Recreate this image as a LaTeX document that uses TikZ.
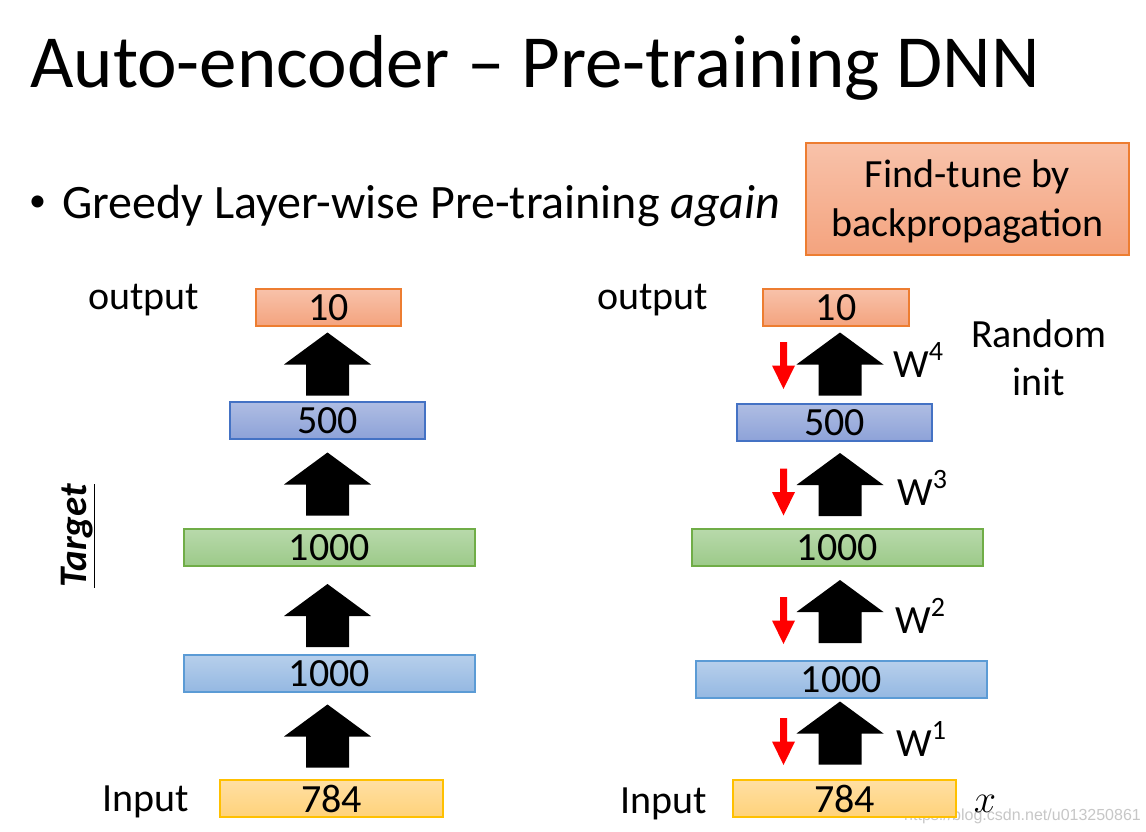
\RequirePackage{fix-cm}
\documentclass[tikz,border=0pt]{standalone}
\usepackage{fontspec}
\setmainfont{Carlito}
\newfontfamily\wmfont{Liberation Sans}
\usetikzlibrary{calc}
\newcommand\fs[1]{\fontsize{#1}{1.2\dimexpr#1pt\relax}\selectfont}
\newcommand\Wsup[1]{W\raisebox{0.42em}{\fontsize{28}{30}\selectfont #1}}
\definecolor{orbd}{HTML}{ED7D31}
\definecolor{ortop}{HTML}{F8C2AA}
\definecolor{orbot}{HTML}{F4A37E}
\definecolor{pubd}{HTML}{4472C4}
\definecolor{putop}{HTML}{AFBDE3}
\definecolor{pubot}{HTML}{8DA2D8}
\definecolor{grbd}{HTML}{70AD47}
\definecolor{grtop}{HTML}{B8D9AB}
\definecolor{grbot}{HTML}{9CCA89}
\definecolor{blbd}{HTML}{5B9BD5}
\definecolor{bltop}{HTML}{B7CFEB}
\definecolor{blbot}{HTML}{94B8E2}
\definecolor{yebd}{HTML}{FFC000}
\definecolor{yetop}{HTML}{FFDFA3}
\definecolor{yebot}{HTML}{FFD27A}
\tikzset{
  layer/.style={draw, line width=1.2pt, inner sep=0pt, minimum height=37pt, font=\fs{40}},
  orlayer/.style={layer, draw=orbd, top color=ortop, bottom color=orbot},
  pulayer/.style={layer, draw=pubd, top color=putop, bottom color=pubot},
  grlayer/.style={layer, draw=grbd, top color=grtop, bottom color=grbot},
  bllayer/.style={layer, draw=blbd, top color=bltop, bottom color=blbot},
  yelayer/.style={layer, draw=yebd, top color=yetop, bottom color=yebot},
  lbl/.style={font=\fs{40}, inner sep=0pt, anchor=base west},
  uparrowpic/.pic={\fill[black] (-21.5,31.5) -- (-21.5,0.5) -- (-43.5,0.5) -- (0,-31.5) -- (43.5,0.5) -- (21.5,0.5) -- (21.5,31.5) -- cycle;},
  redarrowpic/.pic={\fill[red] (-3.5,-23.5) -- (-3.5,0) -- (-11.5,0) -- (0,23.5) -- (11.5,0) -- (3.5,0) -- (3.5,-23.5) -- cycle;}
}
\begin{document}
\begin{tikzpicture}[x=1pt,y=-1pt]
\useasboundingbox[fill=white] (0,0) rectangle (1146,832);
% watermark (behind)
\node[font=\wmfont\fontsize{16}{18}\selectfont, text=black!22, inner sep=0pt, anchor=base west] (wm) at (904,820) {https://blog.csdn.net/u013250861};
% title
\node[font=\fs{75}, inner sep=0pt, anchor=base west] (title) at (30,88) {Auto-encoder – Pre-training DNN};
\node[font=\fs{34}, inner sep=0pt] (bul) at (37.5,204) {•};
\node[font=\fs{48}, inner sep=0pt, anchor=base west] (sub) at (62,218) {Greedy Layer-wise Pre-training \textit{again}};
\node[draw=orbd, line width=1.2pt, top color=ortop, bottom color=orbot, minimum width=323pt, minimum height=112pt, inner sep=0pt] (fine) at (967.5,199) {};
\node[inner sep=0pt, align=center, font=\fontsize{40}{49}\selectfont] (finetext) at ([yshift=-3pt]fine.center) {Find-tune by\\backpropagation};
% left column
\node[orlayer, minimum width=145pt] (L10) at (328.5,307.5) {10};
\node[pulayer, minimum width=195pt] (L500) at (327.5,420.5) {500};
\node[grlayer, minimum width=291pt] (L1000a) at (329.5,547.5) {1000};
\node[bllayer, minimum width=291pt] (L1000b) at (329.5,673.5) {1000};
\node[yelayer, minimum width=223pt] (L784) at (331.5,798.5) {784};
\node[lbl] (Lout) at (88,309) {output};
\node[lbl] (Lin) at (102,811) {Input};
\node[font=\fs{39}\bfseries\itshape, inner sep=0pt, rotate=90, anchor=base] (target) at (86,536) {\underline{Target}};
\coordinate (lx) at (327.5,0);
\coordinate (lm4) at ($(L10.south)!0.5!(L500.north)$);
\coordinate (lm3) at ($(L500.south)!0.5!(L1000a.north)$);
\coordinate (lm2) at ($(L1000a.south)!0.5!(L1000b.north)$);
\coordinate (lm1) at ($(L1000b.south)!0.5!(L784.north)$);
\pic at (lx |- lm4) {uparrowpic};
\pic at (lx |- lm3) {uparrowpic};
\pic at ([yshift=-5pt]lx |- lm2) {uparrowpic};
\pic at (lx |- lm1) {uparrowpic};
% right column
\node[orlayer, minimum width=146pt] (R10) at (836,307.5) {10};
\node[pulayer, minimum width=195pt] (R500) at (834.5,422.5) {500};
\node[grlayer, minimum width=291pt] (R1000a) at (837.5,547.5) {1000};
\node[bllayer, minimum width=291pt] (R1000b) at (841.5,679.5) {1000};
\node[yelayer, minimum width=223pt] (R784) at (844.5,798.5) {784};
\node[lbl] (Rout) at (597,309) {output};
\node[lbl] (Rin) at (620,813) {Input};
\node[font=\fs{40}, inner sep=0pt, anchor=base] (xin) at (985,812) {$x$};
\node[font=\fs{40}, inner sep=0pt, align=center] (rand) at (1039,358) {Random\\init};
\coordinate (rx) at (840,0);
\coordinate (rr) at (783.5,0);
\coordinate (rm4) at ($(R10.south)!0.5!(R500.north)$);
\coordinate (rm3) at ($(R500.south)!0.5!(R1000a.north)$);
\coordinate (rm2) at ($(R1000a.south)!0.5!(R1000b.north)$);
\coordinate (rm1) at ($(R1000b.south)!0.5!(R784.north)$);
\pic at ([yshift=1pt]rx |- rm4) {uparrowpic};
\pic at ([yshift=0.5pt]rx |- rm3) {uparrowpic};
\pic at ([yshift=2pt]rx |- rm2) {uparrowpic};
\pic at ([yshift=6pt]rx |- rm1) {uparrowpic};
\pic at ([yshift=-0.5pt]rr |- rm4) {redarrowpic};
\pic at ([yshift=-7pt]rr |- rm3) {redarrowpic};
\pic at ([yshift=-7pt]rr |- rm2) {redarrowpic};
\pic at ([yshift=-2.5pt]rr |- rm1) {redarrowpic};
\node[lbl] (W4) at (893,377) {\Wsup{4}};
\node[lbl] (W3) at (897,505) {\Wsup{3}};
\node[lbl] (W2) at (895,633) {\Wsup{2}};
\node[lbl] (W1) at (896,756) {\Wsup{1}};
\end{tikzpicture}
\end{document}
